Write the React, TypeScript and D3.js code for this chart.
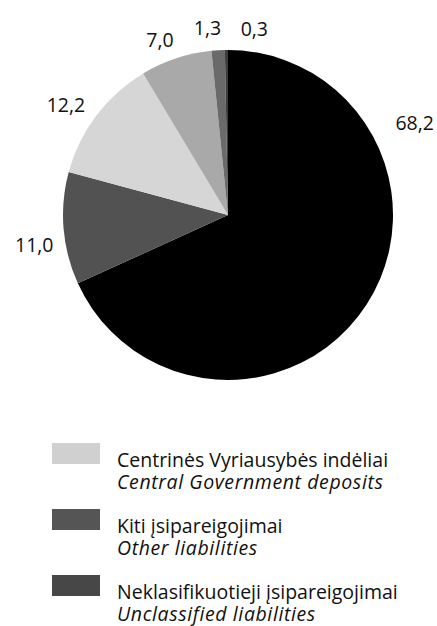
import * as React from 'react';
import * as d3 from 'd3';

const W = 437;
const H = 626;

// slices, clockwise from 12 o'clock
const sliceValues = [68.2, 11.0, 12.2, 7.0, 1.3, 0.3];
const sliceLabels = ['68,2', '11,0', '12,2', '7,0', '1,3', '0,3'];
const sliceColors = ['#000000', '#525252', '#d6d6d6', '#a9a9a9', '#6a6a6a', '#3c3c3c'];

// legend (only the three items visible on the page)
const legendLt = ['Centrinės Vyriausybės indėliai', 'Kiti įsipareigojimai', 'Neklasifikuotieji įsipareigojimai'];
const legendEn = ['Central Government deposits', 'Other liabilities', 'Unclassified liabilities'];
const legendColors = ['#d0d0d0', '#555555', '#474747'];

const FONT = '"Open Sans", Lato, sans-serif';

const App = () => {
  const cx = 228;
  const cy = 215;
  const radius = 165;

  const pie = d3.pie<number>().sort(null).value(d => d);
  const arcs = pie(sliceValues);
  const arc = d3.arc<d3.PieArcDatum<number>>().innerRadius(0).outerRadius(radius);

  // label placement: slightly before the centroid angle; the big slice label sits higher up
  const labelPos = (d: d3.PieArcDatum<number>) => {
    let a = (d.startAngle + d.endAngle) / 2 - 0.05;
    let r = 196;
    if (d.index === 0) {
      a = d.startAngle + (d.endAngle - d.startAngle) * 0.26;
      r = 208;
    }
    if (d.index === 1) a -= 0.02;
    if (d.index >= 3) r = 188;
    if (d.index === sliceValues.length - 1) a += 0.2;
    return [Math.sin(a) * r, -Math.cos(a) * r];
  };

  const legendY = d3.scaleLinear().domain([0, 1]).range([443, 509]);

  return (
    <svg width={W} height={H} style={{ position: 'absolute', left: 0, top: 0, background: '#fff' }}>
      <g transform={`translate(${cx},${cy})`}>
        {arcs.map((d, i) => (
          <path key={i} d={arc(d) ?? ''} fill={sliceColors[i]} />
        ))}
        {arcs.map((d, i) => {
          const [x, y] = labelPos(d);
          return (
            <text key={i} x={x} y={y} dy="0.36em" textAnchor="middle"
              fontFamily={FONT} fontSize={19.5} fill="#111">
              {sliceLabels[i]}
            </text>
          );
        })}
      </g>
      <g>
        {legendLt.map((t, i) => {
          const y0 = legendY(i);
          return (
            <g key={i}>
              <rect x={52} y={y0} width={48} height={21} fill={legendColors[i]} />
              <text x={117} y={y0 + 24} fontFamily={FONT} fontSize={19.5} fill="#111">{t}</text>
              <text x={117} y={y0 + 46} fontFamily={FONT} fontSize={19.5} fontStyle="italic"
                letterSpacing={0.6} fill="#111">
                {legendEn[i]}
              </text>
            </g>
          );
        })}
      </g>
    </svg>
  );
};

export default App;
